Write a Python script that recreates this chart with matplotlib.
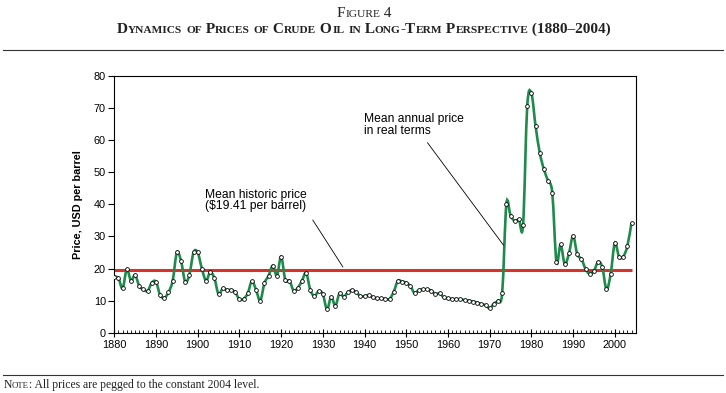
import matplotlib
matplotlib.use('Agg')
import matplotlib.pyplot as plt
from matplotlib.path import Path
from matplotlib.patches import PathPatch
from matplotlib.lines import Line2D
from matplotlib.ticker import MultipleLocator
import numpy as np

# annual real oil price, USD per barrel (2004 dollars)
years = list(range(1880, 2005))
prices = [
    17.5, 17.0, 13.8, 19.8, 16.2, 18.0, 14.5, 13.5, 13.0, 15.6,
    15.9, 11.7, 10.9, 12.6, 16.2, 25.0, 22.4, 15.9, 18.0, 25.0,
    25.0, 20.0, 16.2, 18.9, 17.0, 12.0, 13.8, 13.3, 13.3, 12.6,
    10.4, 10.5, 12.3, 16.1, 13.3, 10.0, 15.4, 17.8, 20.9, 17.8,
    23.7, 16.4, 16.2, 13.1, 14.0, 16.2, 18.7, 13.3, 11.4, 13.0,
    12.0, 7.3, 11.2, 8.4, 12.3, 11.2, 12.6, 13.3, 12.6, 11.4,
    11.4, 11.7, 11.0, 10.7, 10.7, 10.5, 10.5, 12.8, 16.2, 15.9,
    15.6, 14.5, 12.3, 13.3, 13.5, 13.5, 13.1, 12.0, 12.3, 11.0,
    10.7, 10.5, 10.5, 10.4, 10.2, 10.0, 9.7, 9.4, 8.9, 8.6,
    7.6, 9.1, 10.0, 12.5, 40.1, 36.5, 34.8, 35.3, 33.6, 70.6,
    74.6, 64.4, 56.1, 50.9, 47.3, 43.6, 22.1, 27.5, 21.3, 24.7,
    30.2, 24.4, 23.0, 19.8, 18.3, 19.3, 22.1, 20.4, 13.5, 18.3,
    28.0, 23.7, 23.7, 27.0, 34.3,
]
mean_price = 19.41

x_ticks = list(range(1880, 2001, 10))
y_ticks = list(range(0, 81, 10))

SANS = 'Liberation Sans'
SERIF = 'Liberation Serif'
GREEN = '#1f8a4c'
RED = '#d8332a'


def smooth_path(xs, ys):
    # Catmull-Rom curve through every point, as cubic bezier segments
    p = np.column_stack([xs, ys]).astype(float)
    ext = np.vstack([p[0], p, p[-1]])
    verts = [p[0]]
    codes = [Path.MOVETO]
    for i in range(len(p) - 1):
        p0, p1, p2, p3 = ext[i], ext[i + 1], ext[i + 2], ext[i + 3]
        verts += [p1 + (p2 - p0) / 6, p2 - (p3 - p1) / 6, p2]
        codes += [Path.CURVE4] * 3
    return Path(verts, codes)


def caps_runs(text, big, small):
    runs = []
    for ch in text:
        size = small if ch.islower() else big
        if runs and runs[-1][1] == size:
            runs[-1][0] += ch.upper()
        else:
            runs.append([ch.upper(), size])
    return runs


def draw_runs(fig, runs, x, y, ha='center', **kw):
    r = fig.canvas.get_renderer()

    def width(s, size):
        t = fig.text(0, 0, s + '|', fontsize=size, **kw)
        w1 = t.get_window_extent(r).width
        t.remove()
        t = fig.text(0, 0, '|', fontsize=size, **kw)
        w2 = t.get_window_extent(r).width
        t.remove()
        return w1 - w2

    widths = [width(s, sz) for s, sz in runs]
    W = fig.bbox.width
    xp = x * W - (sum(widths) / 2 if ha == 'center' else 0)
    for (s, sz), w in zip(runs, widths):
        fig.text(xp / W, y, s, fontsize=sz, ha='left', va='baseline', **kw)
        xp += w


fig = plt.figure(figsize=(7.26, 3.93), dpi=100)
ax = fig.add_axes([0.1574, 0.1534, 0.7182, 0.6532])

ax.plot([years[0], years[-1]], [mean_price, mean_price], color=RED, lw=2.2, zorder=2,
        solid_capstyle='butt')
ax.add_patch(PathPatch(smooth_path(years, prices), facecolor='none', edgecolor=GREEN,
                       lw=1.9, zorder=3, transform=ax.transData))
ax.plot(years, prices, ls='none', marker='o', ms=2.7, mfc='white', mec='black', mew=0.6,
        zorder=4)

ax.set_xlim(1880, 2005)
ax.set_ylim(0, 80)
ax.set_xticks(x_ticks)
ax.set_yticks(y_ticks)
ax.xaxis.set_minor_locator(MultipleLocator(1))
ax.tick_params(axis='x', which='major', direction='inout', length=6, width=0.8)
ax.tick_params(axis='x', which='minor', direction='in', length=2.5, width=0.6)
ax.tick_params(axis='y', which='major', direction='out', length=4, width=0.8)
ax.tick_params(labelsize=7.8, pad=2)
for lab in ax.get_xticklabels() + ax.get_yticklabels():
    lab.set_family(SANS)
for sp in ax.spines.values():
    sp.set_linewidth(0.8)
ax.set_ylabel('Price, USD per barrel', fontsize=7.8, fontweight='bold', family=SANS,
              labelpad=8)

# annotations
ax.text(1901.75, 41.9, 'Mean historic price', fontsize=8.7, family=SANS, va='baseline')
ax.text(1901.75, 38.4, '($19.41 per barrel)', fontsize=8.7, family=SANS, va='baseline')
ax.plot([1927.6, 1934.8], [35.1, 20.5], color='black', lw=0.6, zorder=5)
ax.text(1939.95, 65.7, 'Mean annual price', fontsize=8.7, family=SANS, va='baseline')
ax.text(1939.95, 61.9, 'in real terms', fontsize=8.7, family=SANS, va='baseline')
ax.plot([1955.1, 1973.3], [59.2, 27.3], color='black', lw=0.6, zorder=5)

# title block, rules and note
draw_runs(fig, caps_runs('Figure 4', 11, 8.2), 0.5016, 0.9575, family=SERIF,
          color='#222222')
draw_runs(fig, caps_runs('Dynamics of Prices of Crude Oil in Long-Term Perspective (1880–2004)',
                         11, 8.2), 0.5014, 0.9153, family=SERIF, fontweight='bold',
          color='#222222')
fig.add_artist(Line2D([0.004, 0.996], [0.8728, 0.8728], color='#333333', lw=0.8))
fig.add_artist(Line2D([0.004, 0.996], [0.0458, 0.0458], color='#333333', lw=0.8))
note_runs = caps_runs('Note', 8.4, 6.3) + [[': All prices are pegged to the constant 2004 level.', 8.4]]
draw_runs(fig, note_runs, 0.0046, 0.0127, ha='left', family=SERIF, color='#222222')

fig.savefig('out.png', dpi=100)
